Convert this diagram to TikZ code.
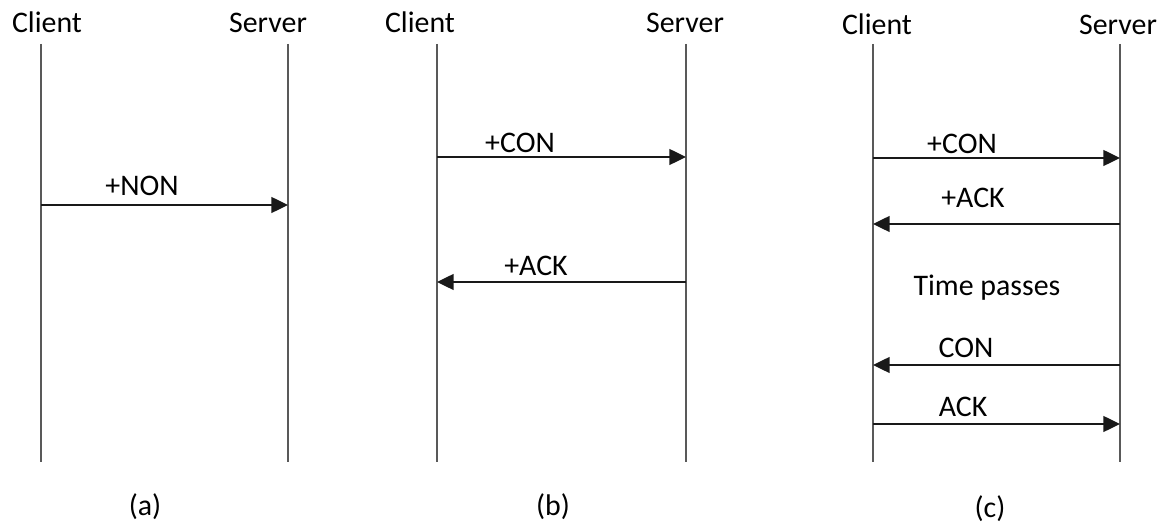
\documentclass[tikz,border=0pt]{standalone}
\usepackage{fontspec}
\setmainfont{Carlito}
\usetikzlibrary{arrows.meta}
\begin{document}
\begin{tikzpicture}[x=0.02cm,y=-0.02cm,
  lbl/.style={font=\fontsize{17pt}{19pt}\selectfont, inner sep=0pt, anchor=base},
  life/.style={draw=black!65, line width=1.2pt},
  msg/.style={draw=black!90, line width=1.2pt, -{Triangle[length=9.5pt,width=9pt]}}]
\useasboundingbox (0,0) rectangle (1161,523);
% (a)
\node[lbl] (ca) at (47,33) {Client};
\node[lbl] (sa) at (268,33) {Server};
\coordinate (cat) at (41,44); \coordinate (cab) at (41,462);
\coordinate (sat) at (288,44); \coordinate (sab) at (288,462);
\draw[life] (cat) -- (cab);
\draw[life] (sat) -- (sab);
\coordinate (a1c) at (41,205); \coordinate (a1s) at (288,205);
\draw[msg] (a1c) -- (a1s);
\node[lbl] (l1) at (142,196) {+NON};
\node[lbl] (capa) at (145,516) {(a)};
% (b)
\node[lbl] (cb) at (420,33) {Client};
\node[lbl] (sb) at (685,33) {Server};
\coordinate (cbt) at (437,44); \coordinate (cbb) at (437,462);
\coordinate (sbt) at (686,44); \coordinate (sbb) at (686,462);
\draw[life] (cbt) -- (cbb);
\draw[life] (sbt) -- (sbb);
\coordinate (b1c) at (437,157); \coordinate (b1s) at (686,157);
\draw[msg] (b1c) -- (b1s);
\node[lbl] (l2) at (520,153) {+CON};
\coordinate (b2c) at (437,282); \coordinate (b2s) at (686,282);
\draw[msg] (b2s) -- (b2c);
\node[lbl] (l3) at (536,276) {+ACK};
\node[lbl] (capb) at (553,516) {(b)};
% (c)
\node[lbl] (cc) at (877,35) {Client};
\node[lbl] (sc) at (1118,35) {Server};
\coordinate (cct) at (873,44); \coordinate (ccb) at (873,462);
\coordinate (sct) at (1120,44); \coordinate (scb) at (1120,462);
\draw[life] (cct) -- (ccb);
\draw[life] (sct) -- (scb);
\coordinate (c1c) at (873,158); \coordinate (c1s) at (1120,158);
\draw[msg] (c1c) -- (c1s);
\node[lbl] (l4) at (962,154) {+CON};
\coordinate (c2c) at (873,224); \coordinate (c2s) at (1120,224);
\draw[msg] (c2s) -- (c2c);
\node[lbl] (l5) at (973,208) {+ACK};
\node[lbl] (l6) at (987,296) {Time passes};
\coordinate (c3c) at (873,365); \coordinate (c3s) at (1120,365);
\draw[msg] (c3s) -- (c3c);
\node[lbl] (l7) at (966,358) {CON};
\coordinate (c4c) at (873,424); \coordinate (c4s) at (1120,424);
\draw[msg] (c4c) -- (c4s);
\node[lbl] (l8) at (963,417) {ACK};
\node[lbl] (capc) at (990,518) {(c)};
\end{tikzpicture}
\end{document}
